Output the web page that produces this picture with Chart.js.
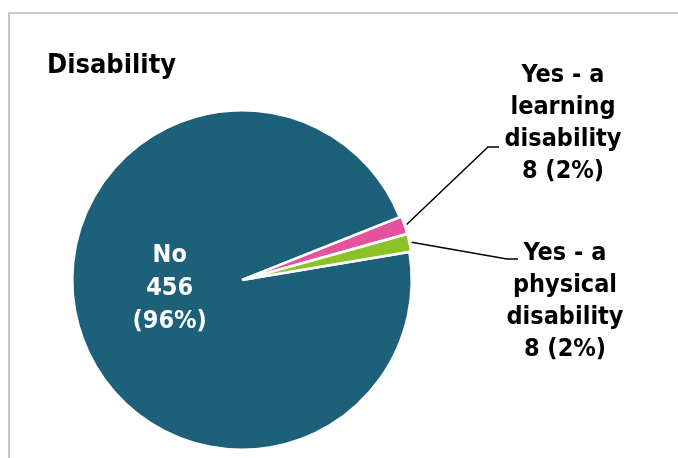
<!DOCTYPE html>
<html>
<head>
<meta charset="utf-8">
<title>Disability</title>
<script src="https://cdn.jsdelivr.net/npm/chart.js@4.4.1/dist/chart.umd.min.js"></script>
<style>
  html, body { margin: 0; padding: 0; background: #fff; }
  #wrap { position: relative; width: 678px; height: 458px; overflow: hidden; }
  #frame { position: absolute; left: 8px; top: 12px; width: 720px; height: 500px;
           border-top: 2px solid #c8c8c8; border-left: 2px solid #c8c8c8; }
  #pie { position: absolute; left: 0; top: 0; }
</style>
</head>
<body>
<div id="wrap">
  <div id="frame"></div>
  <canvas id="pie" width="678" height="458"></canvas>
</div>
<script>
const title = 'Disability';
const categories = ['No', 'Yes - a learning disability', 'Yes - a physical disability'];
const counts = [456, 8, 8];
const percents = [96, 2, 2];
const sliceColors = ['#1d607a', '#e6519e', '#8dc226'];

// how each category name is wrapped on the chart
const nameLines = [
  ['No'],
  ['Yes - a', 'learning', 'disability'],
  ['Yes - a', 'physical', 'disability']
];

// outside callouts: text centre, first baseline, elbow and end of the leader line
const callouts = [
  null,
  { tx: 563, ty: 82, elbow: [488, 147], end: [499, 147] },
  { tx: 565, ty: 260, elbow: [507, 259], end: [518, 259] }
];

const FONT = "'DejaVu Sans Condensed', 'DejaVu Sans', sans-serif";
const LINE_H = 32;

function labelFor(i) {
  const lines = nameLines[i].slice();
  if (i === 0) {
    lines.push(String(counts[i]), '(' + percents[i] + '%)');
  } else {
    lines.push(counts[i] + ' (' + percents[i] + '%)');
  }
  return lines;
}

const pieLabels = {
  id: 'pieLabels',
  afterDatasetsDraw(chart) {
    const ctx = chart.ctx;
    const meta = chart.getDatasetMeta(0);
    ctx.save();

    // title
    ctx.fillStyle = '#000';
    ctx.font = 'bold 27px ' + FONT;
    ctx.textAlign = 'left';
    ctx.textBaseline = 'alphabetic';
    ctx.fillText(title, 47, 73);

    ctx.font = 'bold 25px ' + FONT;
    ctx.textAlign = 'center';

    meta.data.forEach((arc, i) => {
      const p = arc.getProps(['x', 'y', 'startAngle', 'endAngle', 'outerRadius'], true);
      const mid = (p.startAngle + p.endAngle) / 2;
      const lines = labelFor(i);
      const c = callouts[i];

      if (!c) {
        // inside label, white, centred along the slice middle
        const d = p.outerRadius * 0.43;
        const cx = p.x + Math.cos(mid) * d - 2;
        const cy = p.y + Math.sin(mid) * d;
        ctx.fillStyle = '#fff';
        const top = cy - (lines.length - 1) * LINE_H / 2 - 6;
        lines.forEach((t, k) => ctx.fillText(t, cx, top + k * 33));
        return;
      }

      const off = arc.options.offset || 0;
      const r = p.outerRadius + off;
      ctx.strokeStyle = '#000';
      ctx.lineWidth = 1.5;
      ctx.beginPath();
      ctx.moveTo(p.x + Math.cos(mid) * r, p.y + Math.sin(mid) * r);
      ctx.lineTo(c.elbow[0], c.elbow[1]);
      ctx.lineTo(c.end[0], c.end[1]);
      ctx.stroke();

      ctx.fillStyle = '#000';
      lines.forEach((t, k) => ctx.fillText(t, c.tx, c.ty + k * LINE_H));
    });
    ctx.restore();
  }
};

new Chart(document.getElementById('pie').getContext('2d'), {
  type: 'pie',
  data: {
    labels: categories,
    datasets: [{
      data: counts,
      backgroundColor: sliceColors,
      borderColor: '#fff',
      borderWidth: 2.5,
      offset: [0, 4, 4]
    }]
  },
  options: {
    responsive: false,
    animation: false,
    rotation: 80.5,
    layout: { padding: { left: 68, right: 262, top: 107, bottom: 5 } },
    plugins: {
      legend: { display: false },
      tooltip: { enabled: false }
    }
  },
  plugins: [pieLabels]
});
</script>
</body>
</html>
